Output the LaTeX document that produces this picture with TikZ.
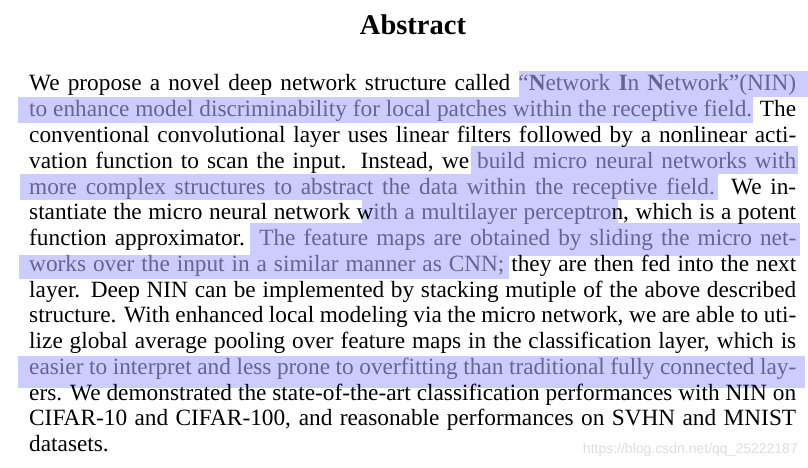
\documentclass[tikz,border=0pt]{standalone}
\usepackage{fontspec}
\setmainfont{Liberation Serif}
\newfontfamily\wmfont{Liberation Sans}
\usepackage{xcolor}
\definecolor{hlfill}{RGB}{204,204,255}
\definecolor{hltext}{RGB}{100,100,150}
\newcommand{\hltxt}{\color{hltext}}
\newcommand{\bodyfont}{\fontsize{23.3}{25.75}\selectfont}
\begin{document}
\begin{tikzpicture}[x=1pt,y=-1pt,
  txt/.style={anchor=base west,inner sep=0pt,font=\bodyfont},
  hl/.style={fill=hlfill}]
          \path[use as bounding box,fill=white] (0,0) rectangle (808,468);
          \fill[hl] (519,71) rectangle (808,97);
          \fill[hl] (18,97) rectangle (753,123);
          \fill[hl] (471,146) rectangle (798,174);
          \fill[hl] (20,174) rectangle (718,200);
          \fill[hl] (362,200) rectangle (618,226);
          \fill[hl] (250,223) rectangle (800,256);
          \fill[hl] (19,255) rectangle (509,279);
          \fill[hl] (18,356) rectangle (805,388);
          \node[anchor=base,inner sep=0pt,font=\fontsize{28.5}{30}\selectfont\bfseries] (title) at (413,34.3) {Abstract};
          \node[txt] (l1) at (29,91) {\hbox to 767pt{We propose a novel deep network structure called {\hltxt “\textbf{N}etwork \textbf{I}n \textbf{N}etwork”(NIN)}}};
          \node[txt] (l2) at (29,116.75) {\hbox to 767pt{{\hltxt to enhance model discriminability for local patches within the receptive field.} The}};
          \node[txt] (l3) at (29,142.5) {\hbox to 767pt{conventional convolutional layer uses linear filters followed by a nonlinear acti-}};
          \node[txt] (l4) at (29,168.25) {\hbox to 767pt{vation function to scan the input.  Instead, we {\hltxt build micro neural networks with}}};
          \node[txt] (l5) at (29,194) {\hbox to 767pt{{\hltxt more complex structures to abstract the data within the receptive field.}  We in-}};
          \node[txt] (l6) at (29,219.75) {\hbox to 767pt{stantiate the micro neural network w{\hltxt ith a multilayer perceptro}n, which is a potent}};
          \node[txt] (l7) at (29,245.5) {\hbox to 767pt{function approximator.  {\hltxt The feature maps are obtained by sliding the micro net-}}};
          \node[txt] (l8) at (29,271.25) {\hbox to 767pt{{\hltxt works over the input in a similar manner as CNN;} they are then fed into the next}};
          \node[txt] (l9) at (29,297) {\hbox to 767pt{layer.  Deep NIN can be implemented by stacking mutiple of the above described}};
          \node[txt] (l10) at (29,322.75) {\hbox to 767pt{structure.  With enhanced local modeling via the micro network, we are able to uti-}};
          \node[txt] (l11) at (29,348.5) {\hbox to 767pt{lize global average pooling over feature maps in the classification layer, which is}};
          \node[txt] (l12) at (29,374.25) {\hbox to 767pt{{\hltxt easier to interpret and less prone to overfitting than traditional fully connected lay-}}};
          \node[txt] (l13) at (29,400) {\hbox to 767pt{ers.  We demonstrated the state-of-the-art classification performances with NIN on}};
          \node[txt] (l14) at (29,425.75) {\hbox to 767pt{CIFAR-10 and CIFAR-100, and reasonable performances on SVHN and MNIST}};
          \node[txt] (l15) at (29,451.5) {datasets.};
          \node[anchor=base east,inner sep=0pt,font=\wmfont\fontsize{14}{16}\selectfont,text=black!13] (mark) at (798,453) {https://blog.csdn.net/qq\_25222187};
        \end{tikzpicture}
\end{document}
